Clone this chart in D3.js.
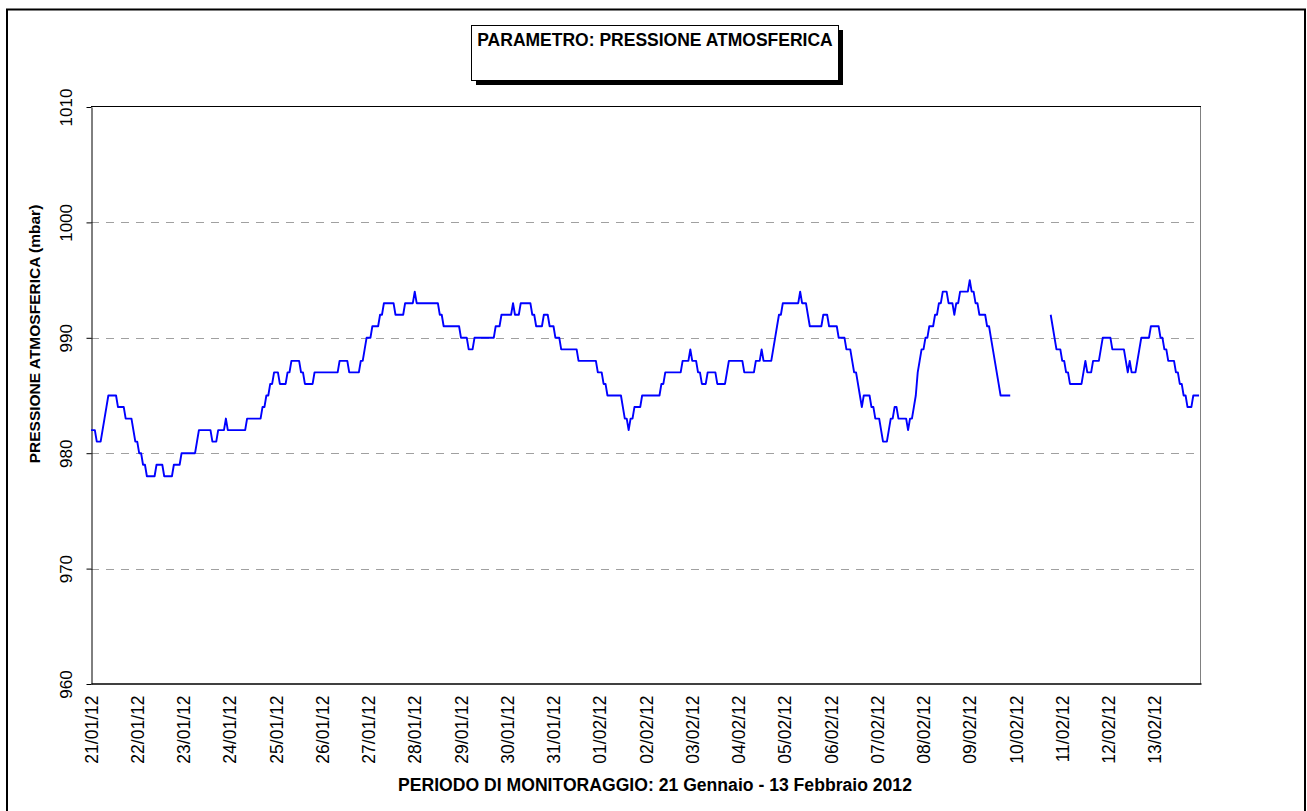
<!DOCTYPE html>
<html>
<head>
<meta charset="utf-8">
<script src="https://cdn.jsdelivr.net/npm/d3@7"></script>
<style>
    body { margin: 0; background: #fff; }
    svg { display: block; font-family: "Liberation Sans", Arial, sans-serif; }
</style>
</head>
<body>
<svg id="chart" width="1307" height="811"></svg>
<script>

// tick labels, one per day
var dayLabels = ["21/01/12", "22/01/12", "23/01/12", "24/01/12", "25/01/12", "26/01/12",
    "27/01/12", "28/01/12", "29/01/12", "30/01/12", "31/01/12", "01/02/12", "02/02/12",
    "03/02/12", "04/02/12", "05/02/12", "06/02/12", "07/02/12", "08/02/12", "09/02/12",
    "10/02/12", "11/02/12", "12/02/12", "13/02/12"];

var yTicks = [960, 970, 980, 990, 1000, 1010];
var gridValues = [970, 980, 990, 1000];

// hourly pressure (mbar), one row per day, null = no data
var pressure = [
    [982,982,982,981,981,981,982,983,984,985,985,985,985,985,984,984,984,984,983,983,983,983,982,981],
    [981,980,980,979,979,978,978,978,978,978,979,979,979,979,978,978,978,978,978,979,979,979,979,980],
    [980,980,980,980,980,980,980,981,982,982,982,982,982,982,982,981,981,981,982,982,982,982,983,982],
    [982,982,982,982,982,982,982,982,982,983,983,983,983,983,983,983,983,984,984,985,985,986,986,987],
    [987,987,986,986,986,986,987,987,988,988,988,988,988,987,987,986,986,986,986,986,987,987,987,987],
    [987,987,987,987,987,987,987,987,987,988,988,988,988,988,987,987,987,987,987,987,988,988,989,990],
    [990,990,991,991,991,991,992,992,993,993,993,993,993,993,992,992,992,992,992,993,993,993,993,993],
    [994,993,993,993,993,993,993,993,993,993,993,993,993,992,992,991,991,991,991,991,991,991,991,991],
    [990,990,990,990,989,989,989,990,990,990,990,990,990,990,990,990,990,990,991,991,991,992,992,992],
    [992,992,992,993,992,992,992,993,993,993,993,993,993,992,992,991,991,991,991,992,992,992,991,991],
    [991,990,990,990,989,989,989,989,989,989,989,989,989,988,988,988,988,988,988,988,988,988,988,987],
    [987,987,986,986,985,985,985,985,985,985,985,985,984,983,983,982,983,983,984,984,984,984,985,985],
    [985,985,985,985,985,985,985,985,986,986,987,987,987,987,987,987,987,987,987,988,988,988,988,989],
    [988,988,988,987,987,986,986,986,987,987,987,987,987,986,986,986,986,986,987,988,988,988,988,988],
    [988,988,988,987,987,987,987,987,987,988,988,988,989,988,988,988,988,988,989,990,991,992,992,993],
    [993,993,993,993,993,993,993,993,994,993,993,993,992,991,991,991,991,991,991,991,992,992,992,991],
    [991,991,991,991,990,990,990,990,989,989,989,988,987,987,986,985,984,985,985,985,985,984,984,983],
    [983,983,982,981,981,981,982,983,983,984,984,983,983,983,983,983,982,983,983,984,985,987,988,989],
    [989,990,990,991,991,991,992,992,993,993,994,994,994,993,993,993,992,993,993,994,994,994,994,994],
    [995,994,994,993,993,992,992,992,992,991,991,990,989,988,987,986,985,985,985,985,985,985,null,null],
    [null,null,null,null,null,null,null,null,null,null,null,null,null,null,null,null,null,null,992,991,990,989,989,989],
    [988,988,987,987,986,986,986,986,986,986,986,987,988,987,987,987,988,988,988,988,989,990,990,990],
    [990,990,989,989,989,989,989,989,989,988,987,988,987,987,987,988,989,990,990,990,990,990,991,991],
    [991,991,991,990,990,989,989,988,988,988,988,987,987,986,986,985,985,984,984,984,985,985,985,985]
];

var titleText = "PARAMETRO: PRESSIONE ATMOSFERICA";
var yTitle = "PRESSIONE ATMOSFERICA (mbar)";
var xTitle = "PERIODO DI MONITORAGGIO: 21 Gennaio - 13 Febbraio 2012";

var plot = {left: 91, right: 1201, top: 107, bottom: 684};
var font = "'Liberation Sans', Arial, sans-serif";

var svg = d3.select("#chart");
var parseDay = d3.timeParse("%d/%m/%y");
var fmtDay = d3.timeFormat("%d/%m/%y");

var days = dayLabels.map(function (d) { return parseDay(d); });
var start = days[0];
var end = d3.timeDay.offset(days[days.length - 1], 1);

var points = [];
pressure.forEach(function (row, i) {
    row.forEach(function (v, h) {
        points.push({date: d3.timeHour.offset(days[i], h), value: v});
    });
});

var x = d3.scaleTime()
    .domain([start, end])
    .range([plot.left, plot.right]);

var y = d3.scaleLinear()
    .domain([960, 1010])
    .range([plot.bottom, plot.top]);

// outer frame
svg.append("rect")
    .attr("x", 7).attr("y", 9.5)
    .attr("width", 1298).attr("height", 830)
    .attr("fill", "none")
    .attr("stroke", "#000")
    .attr("stroke-width", 2);

// title box with shadow
svg.append("rect")
    .attr("x", 476).attr("y", 30)
    .attr("width", 367).attr("height", 55)
    .attr("fill", "#000");
svg.append("rect")
    .attr("x", 471.5).attr("y", 25.5)
    .attr("width", 367).attr("height", 55)
    .attr("fill", "#fff")
    .attr("stroke", "#000")
    .attr("stroke-width", 1);
svg.append("text")
    .attr("x", 655).attr("y", 46)
    .attr("text-anchor", "middle")
    .style("font-size", "17.5px")
    .style("font-weight", "bold")
    .text(titleText);

// grid
svg.append("g").selectAll("line")
    .data(gridValues)
    .enter().append("line")
    .attr("x1", plot.left).attr("x2", plot.right)
    .attr("y1", function (d) { return Math.round(y(d)) + 0.5; })
    .attr("y2", function (d) { return Math.round(y(d)) + 0.5; })
    .attr("stroke", "#a0a0a0")
    .attr("stroke-width", 1)
    .attr("stroke-dasharray", "8,7");

// plot border: top black, right grey
svg.append("line")
    .attr("x1", plot.left).attr("x2", plot.right)
    .attr("y1", plot.top - 0.5).attr("y2", plot.top - 0.5)
    .attr("stroke", "#000");
svg.append("line")
    .attr("x1", plot.right - 0.5).attr("x2", plot.right - 0.5)
    .attr("y1", plot.top).attr("y2", plot.bottom)
    .attr("stroke", "#808080");

// y axis
var yAxis = svg.append("g")
    .attr("transform", "translate(" + (plot.left + 0.5) + ",0)")
    .call(d3.axisLeft(y).tickValues(yTicks).tickSize(5).tickSizeOuter(0).tickFormat(d3.format("d")));
yAxis.select(".domain").attr("stroke", "#000");
yAxis.selectAll(".tick line").attr("stroke", "#000");
yAxis.selectAll(".tick text")
    .attr("x", 0).attr("y", 0).attr("dy", "0.35em")
    .attr("text-anchor", "middle")
    .attr("transform", "translate(-25,0) rotate(-90)")
    .attr("fill", "#000")
    .style("font-size", "17px")
    .style("font-family", font);

// x axis
var xAxis = svg.append("g")
    .attr("transform", "translate(0," + (plot.bottom - 0.5) + ")")
    .call(d3.axisBottom(x).tickValues(days).tickSize(0).tickFormat(fmtDay));
xAxis.select(".domain").attr("stroke", "#000").attr("stroke-width", 1.5);
xAxis.selectAll(".tick text")
    .attr("x", -12).attr("y", 0).attr("dy", "0.35em")
    .attr("text-anchor", "end")
    .attr("transform", "rotate(-90)")
    .attr("fill", "#000")
    .style("font-size", "17.5px")
    .style("font-family", font);

// pressure line
var line = d3.line()
    .defined(function (d) { return d.value !== null; })
    .x(function (d) { return x(d.date); })
    .y(function (d) { return y(d.value); });

svg.append("path")
    .datum(points)
    .attr("d", line)
    .attr("fill", "none")
    .attr("stroke", "#0000ff")
    .attr("stroke-width", 1.9)
    .attr("stroke-linejoin", "round");

// axis titles
svg.append("text")
    .attr("transform", "translate(35,334) rotate(-90)")
    .attr("text-anchor", "middle")
    .attr("dy", "0.35em")
    .style("font-size", "15.5px")
    .style("font-weight", "bold")
    .text(yTitle);

svg.append("text")
    .attr("x", 655).attr("y", 791)
    .attr("text-anchor", "middle")
    .style("font-size", "17.6px")
    .style("font-weight", "bold")
    .text(xTitle);

</script>
</body>
</html>
